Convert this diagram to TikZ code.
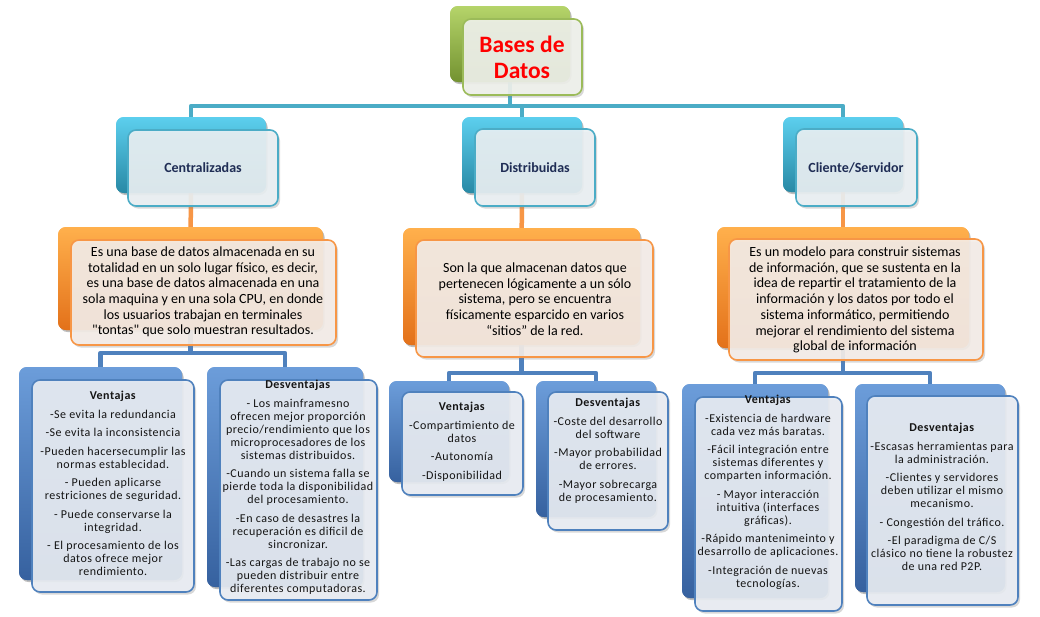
\documentclass[tikz,border=0pt]{standalone}
\usepackage{fontspec}
\setmainfont{Carlito}
\newfontfamily\qfont{Carlito}
\usetikzlibrary{shadows}
\definecolor{tealc}{HTML}{4BACC6}
\definecolor{tealtop}{HTML}{5CCFEE}
\definecolor{tealbot}{HTML}{2889A5}
\definecolor{greenc}{HTML}{9BBB59}
\definecolor{greentop}{HTML}{B5D46A}
\definecolor{greenbot}{HTML}{739230}
\definecolor{orangec}{HTML}{F79646}
\definecolor{orangetop}{HTML}{FFB04C}
\definecolor{orangebot}{HTML}{E3711A}
\definecolor{bluec}{HTML}{4F81BD}
\definecolor{bluetop}{HTML}{6C9DDA}
\definecolor{bluebot}{HTML}{36619F}
\definecolor{navytext}{HTML}{1F2D55}
\tikzset{
  backbox/.style={rounded corners=8pt, draw=none, drop shadow={shadow xshift=1.5pt, shadow yshift=-2pt, opacity=0.3}},
  backG/.style={backbox, top color=greentop, bottom color=greenbot},
  backT/.style={backbox, top color=tealtop, bottom color=tealbot},
  backO/.style={backbox, top color=orangetop, bottom color=orangebot},
  backB/.style={backbox, top color=bluetop, bottom color=bluebot},
  frontbox/.style={rounded corners=8pt, line width=1.6pt, fill opacity=0.9, drop shadow={shadow xshift=2pt, shadow yshift=-2.5pt, opacity=0.3}},
  frontG/.style={frontbox, draw=greenc, fill={rgb,255:red,240;green,242;blue,236}},
  frontT/.style={frontbox, draw=tealc, fill={rgb,255:red,235;green,241;blue,244}},
  frontO/.style={frontbox, draw=orangec, fill={rgb,255:red,245;green,238;blue,233}},
  frontB/.style={frontbox, draw=bluec, fill={rgb,255:red,234;green,238;blue,244}},
  tline/.style={draw=tealc, line width=4.5pt, line join=round},
  oline/.style={draw=orangec, line width=4.5pt},
  bline/.style={draw=bluec, line width=4.5pt, line join=round},
  roottxt/.style={align=center, inner sep=0pt, text=red, font=\fontsize{23.5}{26}\selectfont\bfseries},
  cattxt/.style={align=center, inner sep=0pt, text=navytext, font=\fontsize{14}{16}\selectfont\bfseries},
  desctxt/.style={align=center, inner sep=0pt, text=black, font=\qfont\fontsize{14}{15.7}\selectfont},
  subtxt/.style={align=center, inner sep=0pt, text={rgb,255:red,20;green,20;blue,20}, font=\fontsize{12}{13}\selectfont\addfontfeatures{LetterSpace=4}},
}
\newcommand\mkbox[6]{\node[#2, minimum width={#5pt-#3pt}, minimum height={#6pt-#4pt}] (#1) at ({(#3+#5)/2},{(#4+#6)/2}) {};}
\newcommand\itgap{\\[5.5pt]}
\begin{document}
\begin{tikzpicture}[x=1pt,y=-1pt]
\useasboundingbox[fill=white] (0,0) rectangle (1040,616);
% connector anchors (back boxes)
\mkbox{rootB}{backG}{450}{6}{570}{82}
\mkbox{catAb}{backT}{116}{117}{266}{193}
\mkbox{catBb}{backT}{462}{117}{582}{193}
\mkbox{catCb}{backT}{783}{117}{903}{192}
\mkbox{descAb}{backO}{58}{227}{323}{330}
\mkbox{descBb}{backO}{403}{228}{640}{345}
\mkbox{descCb}{backO}{717}{227}{969}{348}
\mkbox{subAab}{backB}{19}{367}{182}{580}
\mkbox{subAbb}{backB}{207}{367}{363}{587}
\mkbox{subBab}{backB}{389}{381}{509}{482}
\mkbox{subBbb}{backB}{536}{381}{656}{517}
\mkbox{subCab}{backB}{682}{384}{828}{598}
\mkbox{subCbb}{backB}{855}{384}{1005}{592}
% connectors
\coordinate (busT) at (510,106);
\coordinate (busA) at (190.5,353);
\coordinate (busB) at (521.5,373);
\coordinate (busC) at (843,373);
\draw[tline] (rootB.center) -- (busT) -| (catAb.center);
\draw[tline] (rootB.center) -- (busT) -| (catBb.center);
\draw[tline] (rootB.center) -- (busT) -| (catCb.center);
\draw[oline] (catAb.center) -- (descAb.center);
\draw[oline] (catBb.center) -- (descBb.center);
\draw[oline] (catCb.center) -- (descCb.center);
\draw[bline] (descAb.center) -- (busA) -| (subAab.center);
\draw[bline] (descAb.center) -- (busA) -| (subAbb.center);
\draw[bline] (descBb.center) -- (busB) -| (subBab.center);
\draw[bline] (descBb.center) -- (busB) -| (subBbb.center);
\draw[bline] (descCb.center) -- (busC) -| (subCab.center);
\draw[bline] (descCb.center) -- (busC) -| (subCbb.center);
% back boxes above connectors
\mkbox{rootB2}{backG}{450}{6}{570}{82}
\mkbox{catAb2}{backT}{116}{117}{266}{193}
\mkbox{catBb2}{backT}{462}{117}{582}{193}
\mkbox{catCb2}{backT}{783}{117}{903}{192}
\mkbox{descAb2}{backO}{58}{227}{323}{330}
\mkbox{descBb2}{backO}{403}{228}{640}{345}
\mkbox{descCb2}{backO}{717}{227}{969}{348}
\mkbox{subAab2}{backB}{19}{367}{182}{580}
\mkbox{subAbb2}{backB}{207}{367}{363}{587}
\mkbox{subBab2}{backB}{389}{381}{509}{482}
\mkbox{subBbb2}{backB}{536}{381}{656}{517}
\mkbox{subCab2}{backB}{682}{384}{828}{598}
\mkbox{subCbb2}{backB}{855}{384}{1005}{592}
% front boxes
\mkbox{rootF}{frontG}{463}{19}{582}{95}
\mkbox{catAf}{frontT}{128}{130}{278}{206}
\mkbox{catBf}{frontT}{475}{129}{595}{206}
\mkbox{catCf}{frontT}{796}{129}{917}{206}
\mkbox{descAf}{frontO}{71}{240}{336}{345}
\mkbox{descBf}{frontO}{416}{240}{653}{357}
\mkbox{descCf}{frontO}{729}{239}{983}{360}
\mkbox{subAaf}{frontB}{32}{380}{194}{592}
\mkbox{subAbf}{frontB}{220}{380}{377}{600}
\mkbox{subBaf}{frontB}{402}{392}{523}{495}
\mkbox{subBbf}{frontB}{548}{392}{668}{530}
\mkbox{subCaf}{frontB}{695}{397}{842}{611}
\mkbox{subCbf}{frontB}{867}{396}{1018}{605}
% texts
\node[roottxt] (rootT) at (522,57) {Bases de\\Datos};
\node[cattxt] (catAt) at (203,168) {Centralizadas};
\node[cattxt] (catBt) at (535,168) {Distribuidas};
\node[cattxt] (catCt) at (856,168) {Cliente/Servidor};
\node[desctxt] (descAt) at (203,292) {Es una base de datos almacenada en su\\totalidad en un solo lugar físico, es decir,\\es una base de datos almacenada en una\\sola maquina y en una sola CPU, en donde\\los usuarios trabajan en terminales\\"tontas" que solo muestran resultados.};
\node[desctxt] (descBt) at (535,299) {Son la que almacenan datos que\\pertenecen lógicamente a un sólo\\sistema, pero se encuentra\\físicamente esparcido en varios\\“sitios” de la red.};
\node[desctxt] (descCt) at (855,300) {Es un modelo para construir sistemas\\de información, que se sustenta en la\\idea de repartir el tratamiento de la\\información y los datos por todo el\\sistema informático, permitiendo\\mejorar el rendimiento del sistema\\global de información};
\node[subtxt, anchor=north] (subAat) at (113,391) {\textbf{Ventajas}\itgap -Se evita la redundancia\itgap -Se evita la inconsistencia\itgap -Pueden hacersecumplir las\\normas establecidad.\itgap - Pueden aplicarse\\restriciones de seguridad.\itgap - Puede conservarse la\\integridad.\itgap - El procesamiento de los\\datos ofrece mejor\\rendimiento.};
\node[subtxt, anchor=north] (subAbt) at (298,380) {\textbf{Desventajas}\itgap - Los mainframesno\\ofrecen mejor proporción\\precio/rendimiento que los\\microprocesadores de los\\sistemas distribuidos.\itgap -Cuando un sistema falla se\\pierde toda la disponibilidad\\del procesamiento.\itgap -En caso de desastres la\\recuperación es dificil de\\sincronizar.\itgap -Las cargas de trabajo no se\\pueden distribuir entre\\diferentes computadoras.};
\node[subtxt, anchor=north] (subBat) at (462,402) {\textbf{Ventajas}\itgap -Compartimiento de\\datos\itgap -Autonomía\itgap -Disponibilidad};
\node[subtxt, anchor=north] (subBbt) at (608,398) {\textbf{Desventajas}\itgap -Coste del desarrollo\\del software\itgap -Mayor probabilidad\\de errores.\itgap -Mayor sobrecarga\\de procesamiento.};
\node[subtxt, anchor=north] (subCat) at (768,395) {\textbf{Ventajas}\itgap -Existencia de hardware\\cada vez más baratas.\itgap -Fácil integración entre\\sistemas diferentes y\\comparten información.\itgap - Mayor interacción\\intuitiva (interfaces\\gráficas).\itgap -Rápido mantenimeinto y\\desarrollo de aplicaciones.\itgap -Integración de nuevas\\tecnologías.};
\node[subtxt, anchor=north] (subCbt) at (942,423) {\textbf{Desventajas}\itgap -Escasas herramientas para\\la administración.\itgap -Clientes y servidores\\deben utilizar el mismo\\mecanismo.\itgap - Congestión del tráfico.\itgap -El paradigma de C/S\\clásico no tiene la robustez\\de una red P2P.};
\end{tikzpicture}
\end{document}
